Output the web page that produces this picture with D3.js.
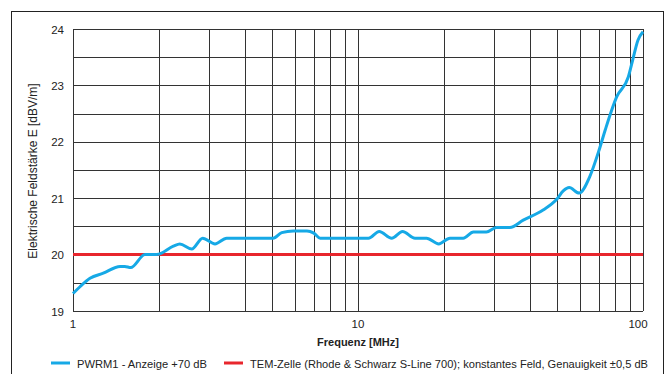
<!DOCTYPE html>
<html>
<head>
<meta charset="utf-8">
<script src="https://cdn.jsdelivr.net/npm/d3@7"></script>
<style>
  body { margin: 0; background: #fff; }
  svg text { font-family: "Liberation Sans", Arial, sans-serif; fill: #222; }
</style>
</head>
<body>
<script>
// PWRM1 reading (+70 dB), frequency in MHz
const freqs = [1, 1.058, 1.147, 1.277, 1.463, 1.52, 1.594, 1.789, 1.966, 2.25, 2.37, 2.61, 2.85, 3.15, 3.46,
  5.04, 5.4, 5.93, 6.62, 7.0, 7.37, 10.88, 11.87, 13.13, 14.33, 15.85, 17.4, 19.2, 21.0, 23.4, 25.4,
  28.2, 30.6, 34.1, 38.0, 44.6, 49.8, 52.5, 55.1, 59.7, 65.0, 70.1, 73.7, 80.9, 88.8, 92, 96, 100];
const pwrm = [19.31, 19.43, 19.58, 19.67, 19.79, 19.79, 19.77, 20.0, 20.0, 20.15, 20.19, 20.1, 20.29, 20.19, 20.29,
  20.29, 20.39, 20.42, 20.42, 20.38, 20.29, 20.29, 20.41, 20.29, 20.41, 20.29, 20.29, 20.19, 20.29, 20.29, 20.4,
  20.4, 20.48, 20.48, 20.61, 20.79, 20.98, 21.13, 21.19, 21.09, 21.38, 21.85, 22.21, 22.8, 23.15, 23.45, 23.8, 23.95];
// TEM cell reference field
const temFreqs = [1, 100];
const temField = [20, 20];

const yTicks = [19, 20, 21, 22, 23, 24];
const xTicks = [1, 10, 100];
const legendLabels = ["PWRM1 - Anzeige +70 dB", "TEM-Zelle (Rhode & Schwarz S-Line 700); konstantes Feld, Genauigkeit \u00b10,5 dB"];

const width = 670, height = 374;
const plotLeft = 73, plotRight = 643, plotTop = 29, plotBottom = 311;
const blue = "#16a9e6", red = "#e8262d";

const svg = d3.select("body").append("svg")
    .attr("width", width)
    .attr("height", height);

svg.append("rect")
    .attr("x", 11.5).attr("y", 11.5)
    .attr("width", 652).attr("height", 400)
    .attr("fill", "none")
    .attr("stroke", "#222");

const x = d3.scaleLog().domain([1, 100]).range([plotLeft, plotRight]);
const y = d3.scaleLinear().domain([19, 24]).range([plotBottom, plotTop]);

// grid
const grid = svg.append("g").attr("stroke", "#333").attr("stroke-width", 1);
const vLines = d3.range(1, 10).concat(d3.range(10, 101, 10));
grid.selectAll("line.v")
    .data(vLines)
    .enter().append("line")
    .attr("x1", d => Math.round(x(d)) + 0.5)
    .attr("x2", d => Math.round(x(d)) + 0.5)
    .attr("y1", plotTop).attr("y2", plotBottom);
grid.selectAll("line.h")
    .data(d3.range(19, 24.01, 0.5))
    .enter().append("line")
    .attr("x1", plotLeft).attr("x2", plotRight)
    .attr("y1", d => Math.round(y(d)) + 0.5)
    .attr("y2", d => Math.round(y(d)) + 0.5);

// axes labels
svg.append("g").selectAll("text")
    .data(yTicks)
    .enter().append("text")
    .attr("x", 64)
    .attr("y", d => y(d) + 4.5)
    .attr("text-anchor", "end")
    .style("font-size", "11.5px")
    .text(d => d);

svg.append("g").selectAll("text")
    .data(xTicks)
    .enter().append("text")
    .attr("x", d => x(d) - (d === 100 ? 5 : 0))
    .attr("y", 328)
    .attr("text-anchor", "middle")
    .style("font-size", "11.5px")
    .text(d => d);

svg.append("text")
    .attr("x", 358).attr("y", 346)
    .attr("text-anchor", "middle")
    .style("font-size", "11px")
    .style("font-weight", "bold")
    .text("Frequenz [MHz]");

svg.append("text")
    .attr("transform", "translate(37,171) rotate(-90)")
    .attr("text-anchor", "middle")
    .style("font-size", "12px")
    .text("Elektrische Feldst\u00e4rke E [dBV/m]");

// series
const line = d3.line()
    .x(d => x(d[0]))
    .y(d => y(d[1]))
    .curve(d3.curveMonotoneX);

svg.append("path")
    .datum(temFreqs.map((f, i) => [f, temField[i]]))
    .attr("d", line)
    .attr("fill", "none")
    .attr("stroke", red)
    .attr("stroke-width", 3);

svg.append("path")
    .datum(freqs.map((f, i) => [f, pwrm[i]]))
    .attr("d", line)
    .attr("fill", "none")
    .attr("stroke", blue)
    .attr("stroke-width", 3)
    .attr("stroke-linejoin", "round");

// legend
const legendItems = [
    { x: 51, color: blue, label: legendLabels[0], len: 130 },
    { x: 224, color: red, label: legendLabels[1], len: 398 }
];
const legend = svg.append("g");
legend.selectAll("line")
    .data(legendItems)
    .enter().append("line")
    .attr("x1", d => d.x).attr("x2", d => d.x + 19)
    .attr("y1", 363).attr("y2", 363)
    .attr("stroke", d => d.color)
    .attr("stroke-width", 3);
legend.selectAll("text")
    .data(legendItems)
    .enter().append("text")
    .attr("x", d => d.x + 26)
    .attr("y", 367.5)
    .attr("textLength", d => d.len)
    .attr("lengthAdjust", "spacingAndGlyphs")
    .style("font-size", "11px")
    .text(d => d.label);
</script>
</body>
</html>
